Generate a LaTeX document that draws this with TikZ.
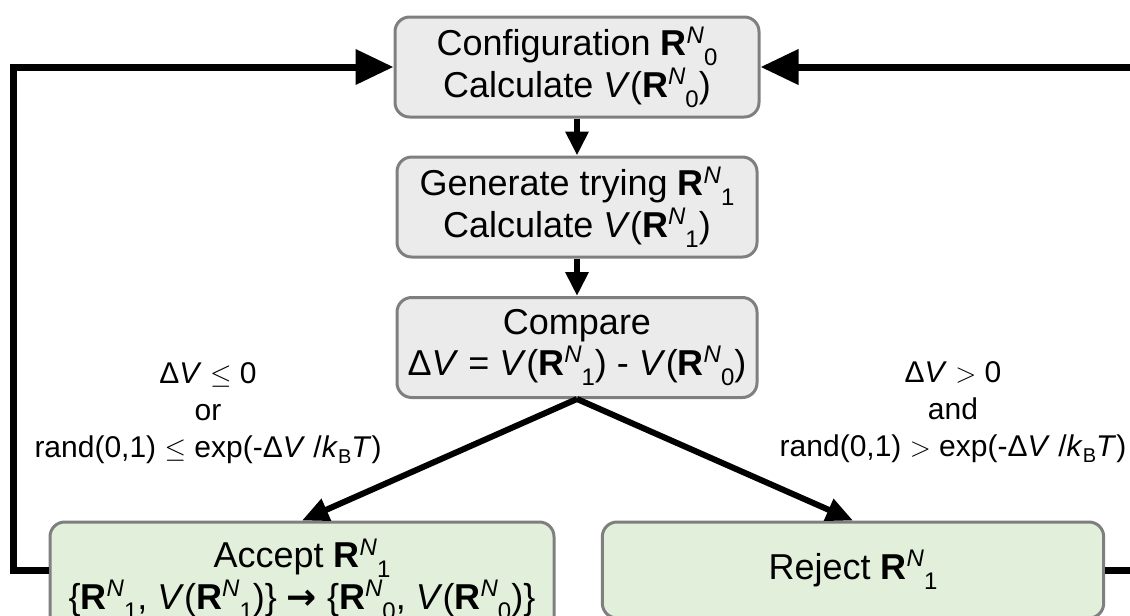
\documentclass[tikz,border=0pt]{standalone}
\usepackage{fontspec}
\setmainfont{Liberation Sans}
\newfontfamily\arrowfont{DejaVu Sans}
\usetikzlibrary{arrows.meta}
\definecolor{boxgray}{HTML}{EBEBEB}
\definecolor{boxgreen}{HTML}{E2EFDA}
\definecolor{edgegray}{HTML}{7F7F7F}
\newcommand\Rvec[1]{\textbf{R}\raisebox{9.5pt}{\fontsize{18}{18}\selectfont\textit{N}}\raisebox{-7.5pt}{\fontsize{18}{18}\selectfont #1}}
\newcommand\kBT{\textit{k}\raisebox{-4.5pt}{\fontsize{15}{15}\selectfont B}\textit{T}}
\begin{document}
\begin{tikzpicture}[x=0.75pt,y=-0.75pt,
  box/.style={draw=edgegray, line width=2.25pt, rounded corners=11pt, align=center,
    font=\fontsize{27}{31}\selectfont, inner sep=0pt},
  graybox/.style={box, fill=boxgray, minimum height=75pt},
  greenbox/.style={box, fill=boxgreen},
  flow/.style={line width=4.5pt, -{Triangle[length=18pt,width=16.5pt]}},
  diag/.style={line width=4.5pt, -{Triangle[length=20pt,width=17pt]}},
  loopline/.style={line width=5.25pt, -{Triangle[length=28.5pt,width=25.5pt]}},
  lab/.style={align=center, font=\fontsize{22.5}{27.75}\selectfont, inner sep=0pt}]
\useasboundingbox (0,0) rectangle (1130,615);
\clip (0,0) rectangle (1130,615);

\node[graybox, minimum width=273pt] (cfg) at (577,67)
  {Configuration \Rvec{0}\\Calculate \textit{V}(\Rvec{0})};
\node[graybox, minimum width=270pt] (gen) at (577,207)
  {Generate trying \Rvec{1}\\Calculate \textit{V}(\Rvec{1})};
\node[graybox, minimum width=270pt] (cmp) at (577,347.5)
  {Compare\\Δ\textit{V} = \textit{V}(\Rvec{1}) - \textit{V}(\Rvec{0})};
\node[greenbox, minimum width=378pt, minimum height=85.5pt] (acc) at (302,579)
  {Accept \Rvec{1}\\\{\Rvec{1}, \textit{V}(\Rvec{1})\} {\arrowfont\bfseries →} \{\Rvec{0}, \textit{V}(\Rvec{0})\}};
\node[greenbox, minimum width=376pt, minimum height=72pt] (rej) at (853,570)
  {Reject \Rvec{1}};

\node[lab] (lcond) at (208,413)
  {Δ\textit{V} $\leq$ 0\\or\\rand(0,1) $\leq$ exp(-Δ\textit{V} /\kBT)};
\node[lab] (rcond) at (953,412)
  {Δ\textit{V} $>$ 0\\and\\rand(0,1) $>$ exp(-Δ\textit{V} /\kBT)};

\coordinate (lb) at (13.5,570);
\coordinate (rb) at (1150,570);

\draw[flow] (cfg) -- (gen);
\draw[flow] (gen) -- (cmp);
\draw[diag] (cmp.south) -- (acc.north);
\draw[diag] (cmp.south) -- (rej.north);
\draw[loopline] (acc.west |- rej.east) -- (lb) |- (cfg.west);
\draw[loopline] (rej.east) -- (rb) |- (cfg.east);
\end{tikzpicture}
\end{document}
